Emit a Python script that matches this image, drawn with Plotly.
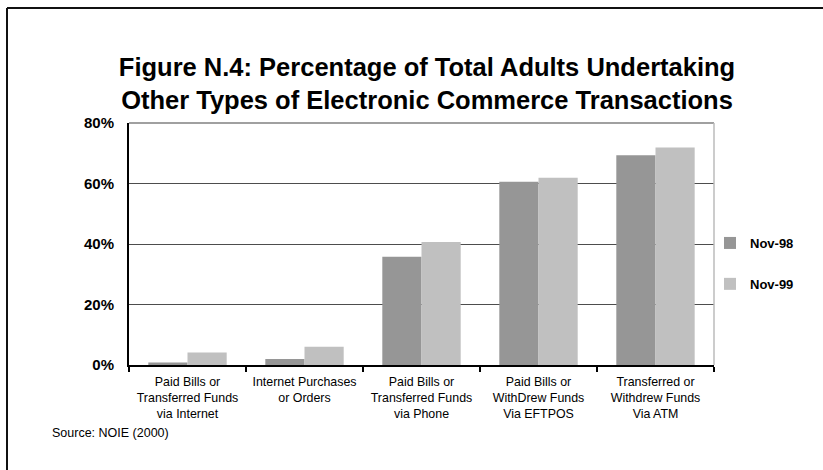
import plotly.graph_objects as go

# Transaction types (x categories) and survey results (% of all adults)
categories = [
    "Paid Bills or<br>Transferred Funds<br>via Internet",
    "Internet Purchases<br>or Orders<br> ",
    "Paid Bills or<br>Transferred Funds<br>via Phone",
    "Paid Bills or<br>WithDrew Funds<br>Via EFTPOS",
    "Transferred or<br>Withdrew Funds<br>Via ATM",
]
nov_98 = [0.8, 2.0, 35.8, 60.6, 69.3]
nov_99 = [4.1, 6.0, 40.7, 61.9, 71.9]
y_ticks = [0, 20, 40, 60, 80]

W, H = 823, 470
ML, MR, MT, MB = 129, 109, 123, 105
PW = W - ML - MR
PH = H - MT - MB

FONT = "Liberation Sans, Arial, sans-serif"


def px_x(p):
    return (p - ML) / PW


def px_y(p):
    return (H - MB - p) / PH


fig = go.Figure()
fig.add_trace(go.Bar(name="Nov-98", x=categories, y=nov_98,
                     marker=dict(color="#969696", line=dict(width=0)),
                     legendgroup="a"))
fig.add_trace(go.Bar(name="Nov-99", x=categories, y=nov_99,
                     marker=dict(color="#C0C0C0", line=dict(width=0)),
                     legendgroup="b"))

shapes = [
    # plot-area frame: top and right edges
    dict(type="line", xref="x domain", yref="y domain", x0=0, x1=1, y0=1, y1=1,
         line=dict(color="#808080", width=1.5)),
    dict(type="line", xref="x domain", yref="y domain", x0=1, x1=1, y0=0, y1=1,
         line=dict(color="#BBBBBB", width=1.5)),
    # outer chart frame: top and left edges
    dict(type="line", xref="paper", yref="paper", x0=px_x(7), x1=px_x(W + 5),
         y0=px_y(8), y1=px_y(8), line=dict(color="#111111", width=2)),
    dict(type="line", xref="paper", yref="paper", x0=px_x(7), x1=px_x(7),
         y0=px_y(8), y1=px_y(H + 5), line=dict(color="#111111", width=2)),
]

fig.update_layout(
    width=W, height=H,
    margin=dict(l=ML, r=MR, t=MT, b=MB),
    paper_bgcolor="white", plot_bgcolor="white",
    barmode="group", bargap=0.33, bargroupgap=0,
    font=dict(family=FONT, color="#000000"),
    title=dict(
        text="<b>Figure N.4: Percentage of Total Adults Undertaking<br>"
             "Other Types of Electronic Commerce Transactions</b>",
        font=dict(family=FONT, size=25.5, color="#000000"),
        x=427 / W, xanchor="center", xref="container",
        y=1 - 76 / H, yanchor="top", yref="container",
    ),
    xaxis=dict(
        type="category", tickson="boundaries", ticks="outside", ticklen=5,
        tickwidth=2, tickcolor="#000000", showline=True, linecolor="#000000",
        linewidth=2, showgrid=False, ticklabelstandoff=4,
        tickfont=dict(family=FONT, size=12.4, color="#000000"),
    ),
    yaxis=dict(
        range=[0, 80], tickvals=y_ticks, ticktext=[f"<b>{v}%</b>" for v in y_ticks],
        showgrid=True, gridcolor="#4d4d4d", gridwidth=1,
        showline=True, linecolor="#000000", linewidth=2, ticks="",
        zeroline=False, ticklabelstandoff=10,
        tickfont=dict(family=FONT, size=15, color="#000000"),
    ),
    legend=dict(
        x=px_x(710), xanchor="left", y=px_y(228), yanchor="top",
        bgcolor="rgba(0,0,0,0)", tracegroupgap=21,
        font=dict(family=FONT, size=13, color="#000000", weight="bold"),
        itemwidth=30,
    ),
    shapes=shapes,
    annotations=[
        dict(text="Source: NOIE (2000)", xref="paper", yref="paper",
             x=px_x(50), y=px_y(433), xanchor="left", yanchor="middle",
             showarrow=False, font=dict(family=FONT, size=12.5, color="#000000")),
    ],
)

fig.write_html("out.html")
